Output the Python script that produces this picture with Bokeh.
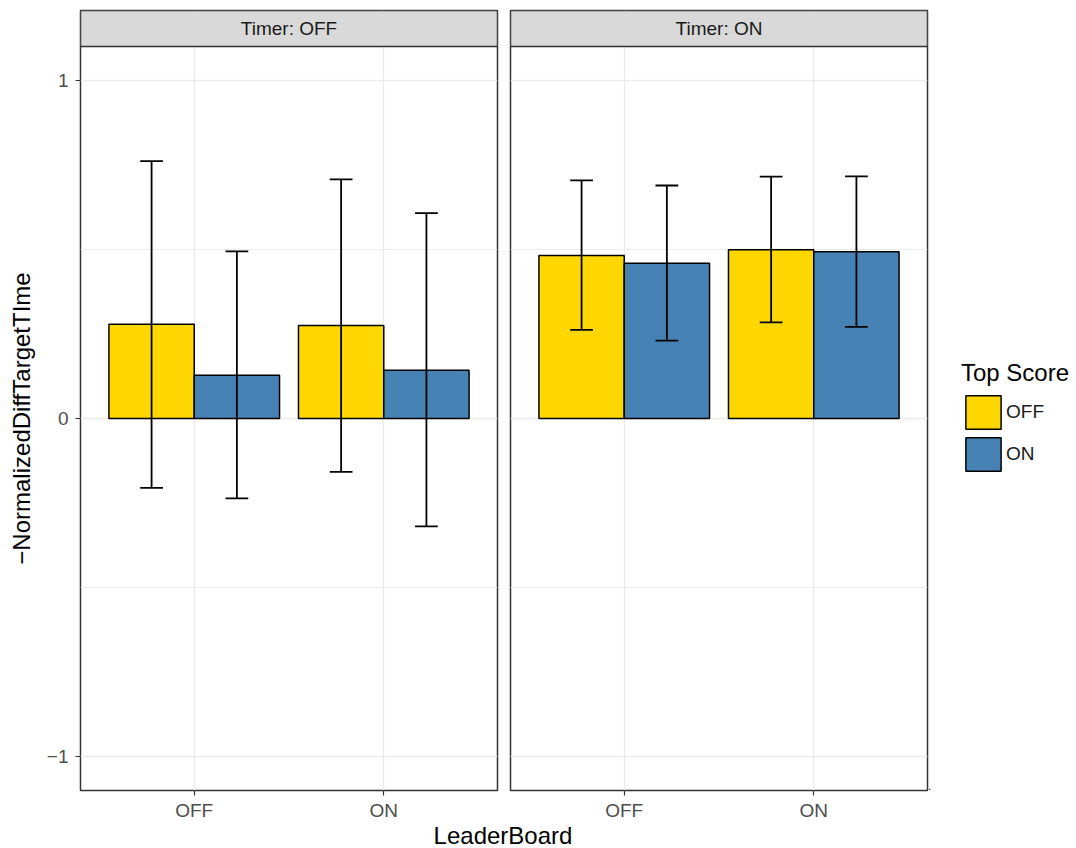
import math
from bokeh.plotting import figure
from bokeh.models import (Range1d, FixedTicker, Label, Legend, LegendItem,
                          ColumnDataSource, Div)
from bokeh.layouts import row, column
from bokeh.embed import file_html
from bokeh.resources import INLINE

# ---------------- data ----------------
timer_levels = ["OFF", "ON"]
leaderboard_levels = ["OFF", "ON"]
top_score_levels = ["OFF", "ON"]

# order within each panel: (LB OFF, TS OFF), (LB OFF, TS ON), (LB ON, TS OFF), (LB ON, TS ON)
bar_leaderboard = ["OFF", "OFF", "ON", "ON"]
bar_top_score = ["OFF", "ON", "OFF", "ON"]

mean_timer_off = [0.279, 0.128, 0.275, 0.143]
upper_timer_off = [0.761, 0.494, 0.707, 0.607]
lower_timer_off = [-0.205, -0.236, -0.158, -0.319]

mean_timer_on = [0.482, 0.459, 0.499, 0.493]
upper_timer_on = [0.704, 0.689, 0.715, 0.716]
lower_timer_on = [0.262, 0.230, 0.284, 0.271]

y_ticks = [-1, 0, 1]
y_minor = [-0.5, 0.5]

# ---------------- style / layout ----------------
FONT = "Liberation Sans"
SMALL = "19px"
BIG = "24px"
COLORS = {"OFF": "#FFD700", "ON": "#4682B4"}
FRAME_W = 417
PANEL_H = 744
STRIP_H = 36
Y_LO, Y_HI = -1.1, 1.1
Y_STRIP_TOP = Y_HI + STRIP_H * (Y_HI - Y_LO) / PANEL_H
X_LO, X_HI = 0.4, 2.6
DODGE = 0.225
BAR_W = 0.45
CAP_HALF = 0.06
YLAB_W = 40
LEFT_B = 40
TOP_B, BOT_B = 10, 32
TOTAL_H = TOP_B + PANEL_H + STRIP_H + BOT_B
YLAB_SHIFT = 33


def make_source(mean, upper, lower):
    xs = []
    for lb, ts in zip(bar_leaderboard, bar_top_score):
        base = leaderboard_levels.index(lb) + 1
        xs.append(base + (-DODGE if ts == "OFF" else DODGE))
    return ColumnDataSource(dict(
        x=xs, top=mean, upper=upper, lower=lower,
        cap_l=[v - CAP_HALF for v in xs], cap_r=[v + CAP_HALF for v in xs],
        color=[COLORS[t] for t in bar_top_score], ts=bar_top_score,
    ))


def make_panel(timer, mean, upper, lower, show_y):
    kw = dict(output_backend="svg", toolbar_location=None,
              frame_width=FRAME_W, frame_height=PANEL_H + STRIP_H,
              x_range=Range1d(X_LO, X_HI), y_range=Range1d(Y_LO, Y_STRIP_TOP),
              min_border_top=TOP_B, min_border_bottom=BOT_B)
    if show_y:
        kw.update(min_border_left=LEFT_B, min_border_right=6)
    else:
        kw.update(min_border_left=7, min_border_right=2, y_axis_location=None)
    p = figure(**kw)
    p.background_fill_color = "white"
    p.border_fill_color = "white"
    p.outline_line_color = "#333333"
    p.outline_line_width = 1.5

    xt = FixedTicker(ticks=[1, 2])
    yt = FixedTicker(ticks=y_ticks, minor_ticks=y_minor)
    p.xaxis.ticker = xt
    p.xaxis.major_label_overrides = {i + 1: lv for i, lv in enumerate(leaderboard_levels)}
    p.xgrid.ticker = xt
    p.ygrid.ticker = yt
    for g in (p.xgrid, p.ygrid):
        g.grid_line_color = "#EBEBEB"
        g.grid_line_width = 1.4
    p.ygrid.minor_grid_line_color = "#EBEBEB"
    p.ygrid.minor_grid_line_width = 1.0

    axes = list(p.xaxis) + (list(p.yaxis) if show_y else [])
    for ax in axes:
        ax.axis_line_color = None
        ax.major_tick_in = 0
        ax.major_tick_out = 5
        ax.major_tick_line_color = "#333333"
        ax.major_tick_line_width = 1.2
        ax.minor_tick_line_color = None
        ax.major_label_text_font = FONT
        ax.major_label_text_font_size = SMALL
        ax.major_label_text_color = "#4D4D4D"
        ax.major_label_standoff = 4
    if show_y:
        p.yaxis.ticker = yt
        p.yaxis.major_label_overrides = {-1: "\u22121", 0: "0", 1: "1"}
        p.yaxis.major_label_standoff = 7

    src = make_source(mean, upper, lower)
    p.vbar(x="x", top="top", bottom=0, width=BAR_W, source=src,
           fill_color="color", line_color="black", line_width=1.5)
    p.segment(x0="x", y0="lower", x1="x", y1="upper", source=src,
              line_color="black", line_width=1.8)
    p.segment(x0="cap_l", y0="upper", x1="cap_r", y1="upper", source=src,
              line_color="black", line_width=1.8)
    p.segment(x0="cap_l", y0="lower", x1="cap_r", y1="lower", source=src,
              line_color="black", line_width=1.8)

    # facet strip
    p.quad(left=X_LO, right=X_HI, bottom=Y_HI, top=Y_STRIP_TOP,
           fill_color="#D9D9D9", line_color="#333333", line_width=1.5)
    p.add_layout(Label(x=(X_LO + X_HI) / 2, y=(Y_HI + Y_STRIP_TOP) / 2,
                       text=f"Timer: {timer}", text_align="center",
                       text_baseline="middle", text_font=FONT,
                       text_font_size=SMALL, text_color="#1A1A1A"))
    return p


# y-axis title strip (centred on the panel, not on panel + facet strip)
p0 = figure(output_backend="svg", toolbar_location=None, width=YLAB_W, height=TOTAL_H,
            x_range=Range1d(0, 1), y_range=Range1d(0, 1),
            x_axis_location=None, y_axis_location=None, min_border=0)
p0.outline_line_color = None
p0.grid.visible = False
panel_center_from_bottom = BOT_B + PANEL_H / 2
p0.add_layout(Label(x=21, x_units="screen", y=panel_center_from_bottom - YLAB_SHIFT,
                    y_units="screen",
                    text="\u2212NormalizedDiffTargetTIme", angle=math.pi / 2,
                    text_align="center", text_baseline="middle",
                    text_font=FONT, text_font_size=BIG, text_color="black"))

p1 = make_panel(timer_levels[0], mean_timer_off, upper_timer_off, lower_timer_off, True)
p2 = make_panel(timer_levels[1], mean_timer_on, upper_timer_on, lower_timer_on, False)

# legend figure
p3 = figure(output_backend="svg", toolbar_location=None, width=147, height=TOTAL_H,
            x_range=Range1d(100, 101), y_range=Range1d(100, 101),
            x_axis_location=None, y_axis_location=None, min_border=0)
p3.outline_line_color = None
p3.grid.visible = False
leg_src = make_source(mean_timer_on, upper_timer_on, lower_timer_on)
leg_r = p3.vbar(x="x", top="top", bottom=0, width=BAR_W, source=leg_src,
                fill_color="color", line_color="black", line_width=1.5)
legend = Legend(
    items=[LegendItem(label=top_score_levels[0], renderers=[leg_r], index=0),
           LegendItem(label=top_score_levels[1], renderers=[leg_r], index=1)],
    location=(32, TOTAL_H - 508), title="Top Score",
    title_text_font=FONT, title_text_font_size=BIG, title_text_font_style="normal",
    title_text_color="black", title_standoff=4,
    label_text_font=FONT, label_text_font_size=SMALL, label_text_color="#1A1A1A",
    glyph_width=44, glyph_height=42, label_height=42, spacing=-8, label_standoff=1,
    padding=0, margin=0, border_line_color=None, background_fill_alpha=0,
)
p3.add_layout(legend, "center")

XL_H = 848 - TOTAL_H
xlabel = Div(text="LeaderBoard", width=1006, height=XL_H, margin=0,
             styles={"text-align": "center", "font-size": BIG,
                     "font-family": FONT, "line-height": f"{XL_H}px",
                     "color": "black"})

layout = column(row(p0, p1, p2, p3), xlabel)

with open("out.html", "w") as f:
    f.write(file_html(layout, INLINE))
